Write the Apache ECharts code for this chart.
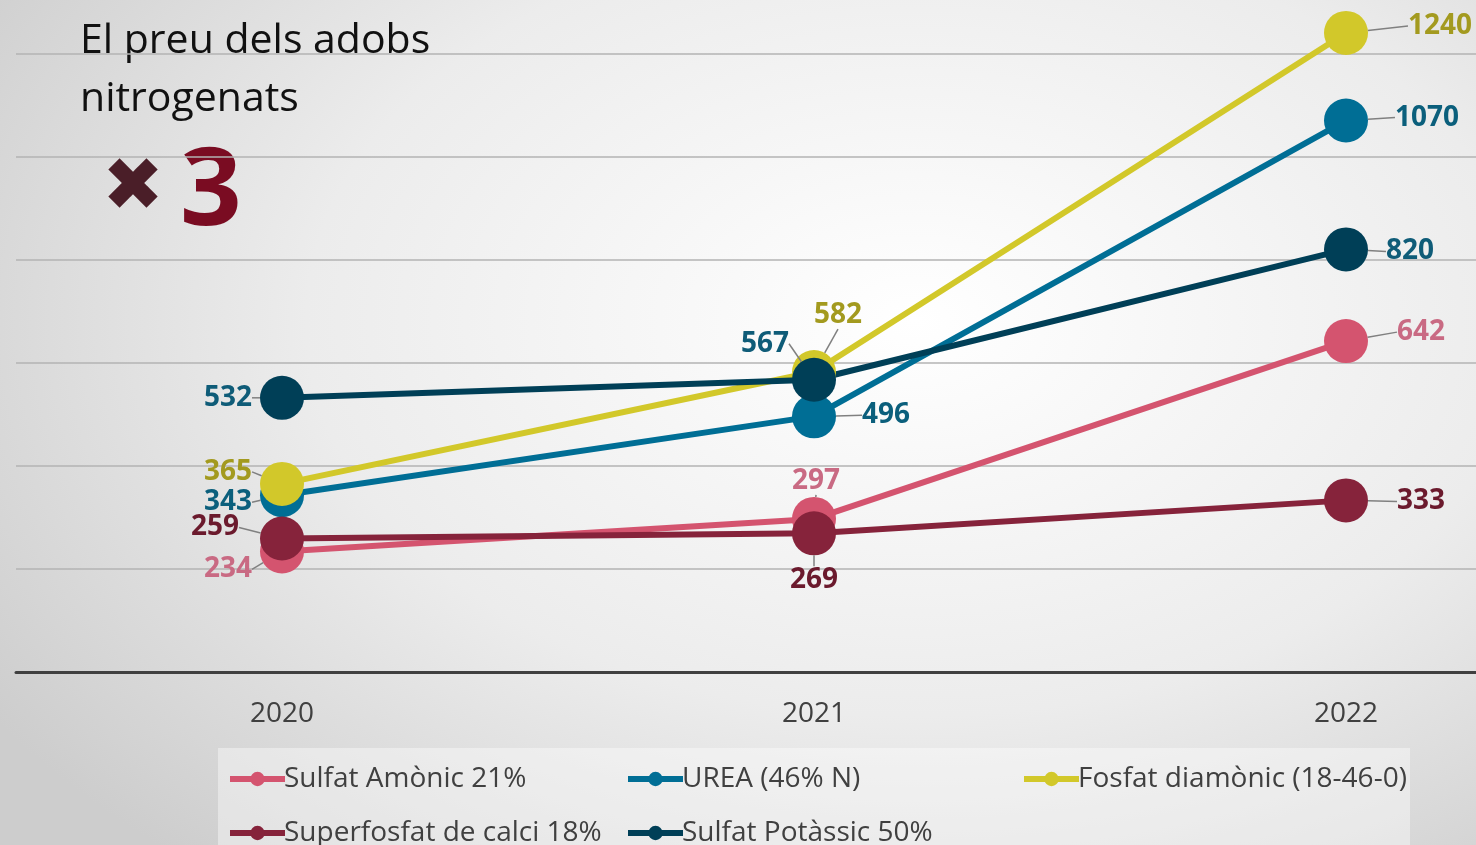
<!DOCTYPE html>
<html>
<head>
<meta charset="utf-8">
<script src="https://cdn.jsdelivr.net/npm/echarts@6/dist/echarts.min.js"></script>
<style>
  html, body { margin: 0; padding: 0; }
  #chart {
    width: 1476px; height: 845px;
    background: radial-gradient(ellipse 75% 85% at 62% 38%, #ffffff 0%, #ececec 55%, #cdcdcd 100%);
  }
</style>
</head>
<body>
<div id="chart"></div>
<script>
  // dades
  var years = ['2020', '2021', '2022'];
  var seriesNames = ['Sulfat Amònic 21%', 'UREA (46% N)', 'Fosfat diamònic (18-46-0)', 'Superfosfat de calci 18%', 'Sulfat Potàssic 50%'];
  var sulfatAmonic = [234, 297, 642];
  var urea = [343, 496, 1070];
  var fosfatDiamonic = [365, 582, 1240];
  var superfosfat = [259, 269, 333];
  var sulfatPotassic = [532, 567, 820];

  var lineColors = ['#d4546f', '#006e95', '#d2c82a', '#86233b', '#003f57'];
  var labelColors = ['#c96a83', '#0b5f7c', '#a39a1f', '#6b1a2d', '#0f5c78'];
  // desplaçament de l'etiqueta respecte el punt [dx, dy, línia]
  var labelOffsets = [
    [[-54, 18, 0], [2, -38, 1], [75, -9, 1]],
    [[-54, 7, 1], [72, -1, 1], [81, -3, 1]],
    [[-54, -12, 1], [24, -57, 1], [94, -7, 1]],
    [[-67, -11, 1], [0, 47, 1], [75, 1, 1]],
    [[-54, 0, 1], [-49, -36, 0], [64, 2, 0]]
  ];

  var myChart = echarts.init(document.getElementById('chart'));

  function makeSeries(idx, data) {
    return {
      name: seriesNames[idx],
      type: 'line',
      data: data,
      symbol: 'circle',
      symbolSize: 44,
      lineStyle: { width: 6, color: lineColors[idx] },
      itemStyle: { color: lineColors[idx] },
      label: {
        show: true,
        position: 'inside',
        color: labelColors[idx],
        fontFamily: 'Open Sans',
        fontWeight: 'bold',
        fontSize: 28
      },
      labelLine: { show: true, showAbove: true, lineStyle: { color: '#808080', width: 1.5 } },
      labelLayout: function (p) {
        var off = labelOffsets[p.seriesIndex][p.dataIndex];
        var cx = p.rect.x + p.rect.width / 2;
        var cy = p.rect.y + p.rect.height / 2;
        var lx = cx + off[0], ly = cy + off[1];
        var hw = p.labelRect.width / 2, hh = p.labelRect.height / 2;
        var pts;
        if (!off[2]) {
          pts = [[cx, cy], [cx, cy]];
        } else if (Math.abs(off[0]) > Math.abs(off[1])) {
          var s = off[0] > 0 ? 1 : -1;
          var ex = lx - s * (hw + 6);
          pts = [[cx, cy], [ex - s * 10, ly - 3], [ex, ly - 3]];
        } else {
          var t = off[1] > 0 ? 1 : -1;
          pts = [[cx, cy], [lx - off[0] * 0.3, ly - t * (hh + 2)]];
        }
        return { x: lx, y: ly, align: 'center', verticalAlign: 'middle', labelLinePoints: pts };
      },
      emphasis: { disabled: true },
      animation: false
    };
  }

  var legendBase = {
    orient: 'vertical',
    height: 200,
    itemWidth: 55,
    itemHeight: 18,
    itemGap: 24,
    lineStyle: { width: 6 },
    textStyle: { fontFamily: 'Open Sans', fontSize: 28, color: '#404040', lineHeight: 30, padding: [0, 0, 0, -6] },
    top: 759
  };

  myChart.setOption({
    graphic: [
      {
        type: 'rect', z: 0, silent: true,
        shape: { x: 218, y: 748, width: 1192, height: 100 },
        style: { fill: 'rgba(255,255,255,0.4)' }
      },
      {
        type: 'text', left: 80, top: 12,
        style: { text: 'El preu dels adobs\nnitrogenats', fontFamily: 'Open Sans', fontSize: 41, lineHeight: 58, fill: '#111111' }
      },
      {
        type: 'text', left: 102, top: 154,
        style: { text: '✖', fontFamily: 'DejaVu Sans', fontSize: 74, fill: '#4a1e28' }
      },
      {
        type: 'text', left: 180, top: 140,
        style: { text: '3', fontFamily: 'Open Sans', fontWeight: 'bold', fontSize: 108, fill: '#7a0c22' }
      }
    ],
    legend: [
      Object.assign({}, legendBase, { left: 222, data: [seriesNames[0], seriesNames[3]] }),
      Object.assign({}, legendBase, { left: 620, data: [seriesNames[1], seriesNames[4]] }),
      Object.assign({}, legendBase, { left: 1016, data: [seriesNames[2]] })
    ],
    grid: { left: 16, width: 1596, top: 2, bottom: 173, outerBoundsMode: 'none' },
    xAxis: {
      type: 'category',
      data: years,
      boundaryGap: true,
      axisLine: { lineStyle: { color: '#404040', width: 3 } },
      axisTick: { show: false },
      axisLabel: { fontFamily: 'Open Sans', fontSize: 28, color: '#404040', margin: 28 }
    },
    yAxis: {
      type: 'value',
      min: 0,
      max: 1300,
      interval: 200,
      axisLabel: { show: false },
      axisLine: { show: false },
      axisTick: { show: false },
      splitLine: { showMaxLine: false, lineStyle: { color: '#b3b3b3', width: 1.5 } }
    },
    series: [
      makeSeries(0, sulfatAmonic),
      makeSeries(1, urea),
      makeSeries(2, fosfatDiamonic),
      makeSeries(3, superfosfat),
      makeSeries(4, sulfatPotassic)
    ]
  });
</script>
</body>
</html>
